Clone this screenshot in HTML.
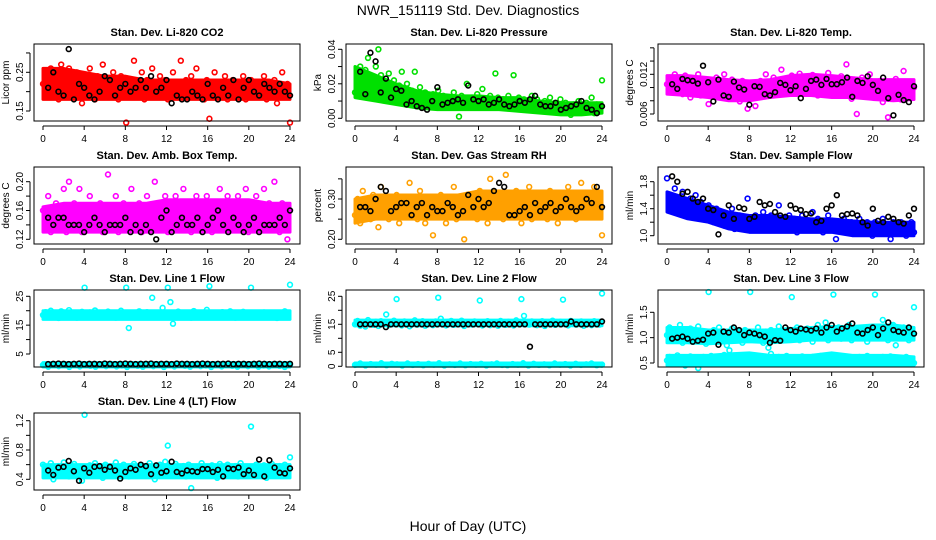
<!DOCTYPE html>
<html><head><meta charset="utf-8"><style>
html,body{margin:0;padding:0;background:#fff}
svg{display:block;font-family:"Liberation Sans",Arial,sans-serif}
</style></head><body>
<svg id="c" width="936" height="540" viewBox="0 0 936 540">
<text x="468" y="15" text-anchor="middle" font-size="14">NWR_151119  Std. Dev. Diagnostics</text>
<text x="468" y="531" text-anchor="middle" font-size="14">Hour of Day (UTC)</text>
</svg>
<script>
const hourTicks=[0,4,8,12,16,20,24];
const bandHours=[0,2,4,6,8,10,12,14,16,18,20,22,24];
const titles=["Stan. Dev. Li-820 CO2","Stan. Dev. Li-820 Pressure","Stan. Dev. Li-820 Temp.","Stan. Dev. Amb. Box Temp.","Stan. Dev. Gas Stream RH","Stan. Dev. Sample Flow","Stan. Dev. Line 1 Flow","Stan. Dev. Line 2 Flow","Stan. Dev. Line 3 Flow","Stan. Dev. Line 4 (LT) Flow"];
const yTitles=["Licor ppm","kPa","degrees C","degrees C","percent","ml/min","ml/min","ml/min","ml/min","ml/min"];
const yTicks=[[0.15,0.2,0.25,0.3],[0,0.01,0.02,0.03,0.04],[0.006,0.008,0.010,0.012,0.014,0.016],[0.12,0.14,0.16,0.18,0.20],[0.20,0.25,0.30,0.35],[1.0,1.2,1.4,1.6,1.8],[5,10,15,20,25],[0,5,10,15,20,25],[0.5,1.0,1.5],[0.4,0.6,0.8,1.0,1.2]];
const yLabels=[["0.15","0.25"],["0.00","0.02","0.04"],["0.006","0.012"],["0.12","0.16","0.20"],["0.20","0.30"],["1.0","1.4","1.8"],["5","15","25"],["0","5","15","25"],["0.5","1.0","1.5"],["0.4","0.8","1.2"]];
const colors=["#ff0000","#00e000","#ff00ff","#ff00ff","#ffa000","#0000ff","#00ffff","#00ffff","#00ffff","#00ffff"];

// cloud envelopes (lo / hi per 2 hours)
const co2Lo=[0.18,0.18,0.18,0.18,0.18,0.18,0.18,0.18,0.18,0.18,0.18,0.18,0.18];
const co2Hi=[0.26,0.26,0.25,0.24,0.24,0.23,0.23,0.23,0.23,0.23,0.23,0.23,0.22];
const presLo=[0.012,0.010,0.008,0.006,0.005,0.005,0.005,0.005,0.004,0.003,0.002,0.002,0.003];
const presHi=[0.030,0.025,0.020,0.016,0.014,0.013,0.013,0.012,0.012,0.010,0.009,0.009,0.009];
const tempLo=[0.0090,0.0088,0.0085,0.0080,0.0080,0.0085,0.0088,0.0088,0.0085,0.0085,0.0082,0.0080,0.0082];
const tempHi=[0.0118,0.0118,0.0115,0.0112,0.0110,0.0112,0.0118,0.0120,0.0118,0.0115,0.0112,0.0112,0.0112];
const ambLo=[0.13,0.13,0.13,0.13,0.13,0.13,0.13,0.13,0.13,0.13,0.13,0.13,0.13];
const ambHi=[0.165,0.17,0.17,0.17,0.17,0.17,0.175,0.175,0.175,0.175,0.175,0.17,0.17];
const rhLo=[0.24,0.25,0.25,0.25,0.25,0.25,0.25,0.25,0.25,0.25,0.25,0.25,0.25];
const rhHi=[0.30,0.31,0.31,0.31,0.31,0.31,0.32,0.32,0.32,0.32,0.32,0.32,0.32];
const flowLo=[1.35,1.25,1.20,1.10,1.05,1.05,1.05,1.05,1.05,1.0,1.0,1.0,1.0];
const flowHi=[1.65,1.55,1.45,1.35,1.30,1.30,1.28,1.25,1.25,1.22,1.20,1.20,1.20];
const l1HiLo=[17,17,17,17,17,17,17,17,17,17,17,17,17];
const l1HiHi=[20,20,20,20,20,20,20,20,20,20,20,20,20];
const l1LoLo=[0.5,0.5,0.5,0.5,0.5,0.5,0.5,0.5,0.5,0.5,0.5,0.5,0.5];
const l1LoHi=[2,2,2,2,2,2,2,2,2,2,2,2,2];
const l2HiLo=[14.5,14.5,14.5,14.5,14.5,14.5,14.5,14.5,14.5,14.5,14.5,14.5,14.5];
const l2HiHi=[16.5,16.5,16.5,16.5,16.5,16.5,16.5,16.5,16.5,16.5,16.5,16.5,16.5];
const l2LoLo=[0,0,0,0,0,0,0,0,0,0,0,0,0];
const l2LoHi=[1.2,1.2,1.2,1.2,1.2,1.2,1.2,1.2,1.2,1.2,1.2,1.2,1.2];
const l3HiLo=[0.9,0.9,0.88,0.9,0.92,0.9,0.92,0.95,0.95,0.95,0.95,0.95,0.95];
const l3HiHi=[1.2,1.2,1.15,1.15,1.15,1.15,1.18,1.2,1.22,1.22,1.25,1.25,1.2];
const l3LoLo=[0.45,0.45,0.45,0.45,0.45,0.45,0.45,0.45,0.45,0.45,0.45,0.45,0.45];
const l3LoHi=[0.65,0.65,0.65,0.68,0.7,0.65,0.65,0.65,0.7,0.65,0.65,0.65,0.62];
const l4Lo=[0.42,0.42,0.42,0.42,0.42,0.42,0.42,0.42,0.42,0.42,0.42,0.42,0.42];
const l4Hi=[0.60,0.60,0.60,0.60,0.60,0.60,0.60,0.60,0.60,0.60,0.60,0.60,0.60];

const co2Color=[0.22,0.25,0.19,0.26,0.21,0.24,0.18,0.27,0.23,0.20,0.26,0.22,0.19,0.25,0.21,0.17,0.23,0.20,0.26,0.22,0.18,0.24,0.21,0.27,0.19,0.23,0.20,0.25,0.22,0.18,0.24,0.21,0.12,0.23,0.19,0.28,0.22,0.20,0.25,0.18,0.23,0.21,0.26,0.19,0.22,0.24,0.20,0.23,0.18,0.21,0.25,0.19,0.22,0.28,0.20,0.23,0.19,0.24,0.21,0.26,0.20,0.22,0.18,0.23,0.13,0.21,0.25,0.19,0.22,0.20,0.24,0.18,0.21,0.23,0.19,0.22,0.20,0.24,0.18,0.21,0.23,0.20,0.22,0.19,0.21,0.24,0.18,0.22,0.20,0.23,0.17,0.21,0.25,0.19,0.22,0.12];
const co2Black=[0.21,0.25,0.20,0.19,0.31,0.18,0.22,0.21,0.19,0.18,0.20,0.24,0.23,0.19,0.21,0.22,0.20,0.21,0.23,0.21,0.24,0.20,0.21,0.23,0.17,0.19,0.18,0.18,0.20,0.19,0.18,0.22,0.19,0.18,0.21,0.19,0.23,0.18,0.21,0.23,0.20,0.19,0.22,0.21,0.20,0.22,0.20,0.19];
const presColor=[0.015,0.025,0.030,0.020,0.028,0.035,0.022,0.018,0.030,0.040,0.025,0.020,0.017,0.026,0.015,0.022,0.012,0.019,0.027,0.014,0.020,0.011,0.016,0.027,0.013,0.018,0.010,0.015,0.012,0.008,0.014,0.011,0.016,0.009,0.013,0.010,0.007,0.012,0.015,0.009,0.001,0.013,0.011,0.020,0.009,0.012,0.008,0.014,0.010,0.017,0.011,0.008,0.013,0.010,0.026,0.012,0.009,0.011,0.007,0.013,0.010,0.025,0.008,0.012,0.009,0.011,0.007,0.010,0.013,0.008,0.011,0.009,0.006,0.010,0.008,0.012,0.007,0.009,0.005,0.011,0.007,0.009,0.006,0.002,0.008,0.006,0.010,0.004,0.007,0.009,0.005,0.012,0.003,0.008,0.006,0.022];
const presBlack=[0.027,0.014,0.038,0.033,0.015,0.023,0.012,0.017,0.016,0.008,0.010,0.007,0.006,0.005,0.010,0.018,0.008,0.009,0.010,0.011,0.009,0.019,0.011,0.010,0.011,0.008,0.009,0.011,0.008,0.007,0.008,0.010,0.009,0.011,0.013,0.008,0.007,0.007,0.009,0.005,0.006,0.007,0.008,0.010,0.006,0.005,0.003,0.007];
const tempColor=[0.0105,0.0115,0.0095,0.0120,0.0100,0.0110,0.0090,0.0118,0.0102,0.0085,0.0112,0.0098,0.0120,0.0088,0.0108,0.0095,0.0075,0.0110,0.0100,0.0115,0.0092,0.0105,0.0120,0.0098,0.0087,0.0112,0.0101,0.0093,0.0079,0.0110,0.0096,0.0068,0.0088,0.0105,0.0072,0.0099,0.0110,0.0094,0.0120,0.0103,0.0090,0.0115,0.0100,0.0108,0.0127,0.0095,0.0112,0.0104,0.0118,0.0096,0.0109,0.0121,0.0100,0.0113,0.0092,0.0106,0.0119,0.0101,0.0088,0.0114,0.0098,0.0107,0.0122,0.0099,0.0110,0.0091,0.0103,0.0117,0.0095,0.0135,0.0104,0.0083,0.0112,0.0060,0.0098,0.0115,0.0090,0.0106,0.0120,0.0085,0.0101,0.0093,0.0110,0.0078,0.0098,0.0055,0.0104,0.0088,0.0113,0.0097,0.0082,0.0125,0.0094,0.0106,0.0087,0.0100];
const tempBlack=[0.0105,0.0098,0.0113,0.0111,0.0110,0.0106,0.0133,0.0108,0.0079,0.0112,0.0088,0.0086,0.0109,0.0100,0.0097,0.0074,0.0102,0.0101,0.0090,0.0088,0.0093,0.0107,0.0104,0.0096,0.0102,0.0084,0.0098,0.0110,0.0112,0.0104,0.0113,0.0105,0.0105,0.0108,0.0115,0.0086,0.0110,0.0107,0.0117,0.0104,0.0095,0.0115,0.0084,0.0058,0.0089,0.0081,0.0078,0.0102];
const ambColor=[0.16,0.14,0.18,0.13,0.15,0.17,0.14,0.16,0.19,0.13,0.20,0.15,0.17,0.14,0.19,0.13,0.16,0.15,0.18,0.14,0.16,0.15,0.17,0.13,0.15,0.21,0.14,0.16,0.18,0.13,0.15,0.17,0.14,0.16,0.19,0.14,0.15,0.17,0.13,0.16,0.18,0.14,0.15,0.20,0.17,0.14,0.16,0.18,0.13,0.17,0.15,0.18,0.14,0.16,0.19,0.15,0.17,0.13,0.16,0.18,0.14,0.17,0.15,0.18,0.16,0.13,0.17,0.15,0.19,0.14,0.16,0.18,0.15,0.17,0.14,0.18,0.16,0.15,0.19,0.13,0.17,0.15,0.18,0.14,0.16,0.19,0.15,0.17,0.14,0.20,0.16,0.13,0.17,0.15,0.12,0.16];
const ambBlack=[0.15,0.14,0.15,0.15,0.14,0.14,0.14,0.13,0.14,0.15,0.14,0.13,0.14,0.14,0.14,0.15,0.13,0.14,0.13,0.14,0.13,0.12,0.15,0.16,0.13,0.14,0.15,0.14,0.14,0.15,0.13,0.14,0.15,0.16,0.14,0.13,0.15,0.14,0.13,0.14,0.15,0.13,0.14,0.14,0.14,0.15,0.14,0.16];
const rhColor=[0.26,0.30,0.24,0.32,0.27,0.29,0.25,0.31,0.28,0.23,0.33,0.27,0.30,0.25,0.29,0.26,0.31,0.24,0.28,0.30,0.26,0.34,0.27,0.29,0.25,0.32,0.28,0.24,0.30,0.27,0.21,0.29,0.26,0.31,0.28,0.24,0.30,0.27,0.33,0.25,0.29,0.28,0.20,0.31,0.26,0.30,0.28,0.25,0.32,0.27,0.29,0.24,0.35,0.28,0.26,0.31,0.29,0.25,0.36,0.27,0.30,0.26,0.32,0.28,0.24,0.30,0.27,0.33,0.25,0.29,0.31,0.26,0.28,0.30,0.25,0.32,0.27,0.29,0.24,0.31,0.28,0.26,0.33,0.27,0.30,0.25,0.29,0.34,0.27,0.31,0.26,0.28,0.33,0.27,0.30,0.21];
const rhBlack=[0.28,0.28,0.27,0.30,0.33,0.32,0.27,0.28,0.29,0.29,0.26,0.28,0.29,0.26,0.28,0.27,0.27,0.29,0.28,0.26,0.27,0.31,0.28,0.30,0.28,0.29,0.32,0.34,0.33,0.26,0.26,0.27,0.28,0.26,0.29,0.27,0.28,0.29,0.27,0.28,0.30,0.28,0.27,0.28,0.30,0.29,0.33,0.28];
const flowColor=[1.85,1.60,1.45,1.70,1.55,1.40,1.65,1.50,1.35,1.55,1.45,1.60,1.30,1.50,1.40,1.25,1.45,1.30,1.20,1.40,1.25,1.35,1.15,1.30,1.20,1.40,1.10,1.25,1.30,1.15,1.20,1.55,1.25,1.10,1.30,1.20,1.15,1.35,1.25,1.10,1.30,1.15,1.20,1.45,1.25,1.10,1.20,1.30,1.15,1.25,1.05,1.20,1.30,1.10,1.20,1.15,1.35,1.10,1.25,1.15,1.05,1.20,1.30,1.10,1.15,0.95,1.20,1.10,1.25,1.15,1.05,1.20,1.10,1.15,1.25,1.05,1.15,1.20,1.10,1.00,1.20,1.15,1.05,1.25,1.10,1.15,0.95,1.20,1.10,1.05,1.20,1.15,1.00,1.10,1.20,1.05];
const flowBlack=[1.88,1.80,1.62,1.65,1.55,1.50,1.55,1.40,1.38,1.02,1.30,1.45,1.25,1.42,1.40,1.25,1.28,1.50,1.45,1.47,1.35,1.30,1.28,1.45,1.40,1.38,1.32,1.33,1.20,1.22,1.40,1.45,1.60,1.30,1.32,1.33,1.30,1.20,1.15,1.40,1.22,1.20,1.28,1.25,1.20,1.18,1.30,1.40];
const line1High=[18.5,19.5,17.8,20.0,18.2,19.0,17.5,19.8,18.8,17.9,20.2,18.4,19.2,17.6,18.9,19.6,28.0,18.1,19.4,17.7,20.1,18.6,19.1,17.8,18.3,19.7,18.0,19.3,17.6,18.8,20.0,18.4,28.0,14.0,19.0,17.9,18.5,19.8,18.2,17.7,19.5,18.6,24.5,18.0,19.2,17.8,21.0,19.0,28.0,23.0,15.5,18.4,19.7,17.9,18.8,19.3,18.1,17.6,19.9,18.5,18.9,17.8,19.4,20.3,28.5,18.3,17.7,19.0,18.6,19.5,17.9,18.2,19.8,18.4,17.6,19.1,18.7,19.6,18.0,17.8,28.0,18.5,19.2,17.7,18.9,19.4,18.1,17.9,19.0,18.6,17.5,19.3,18.2,19.8,18.4,29.0];
const line1Low=[1.2,0.6,1.5,0.8,1.3,0.5,1.1,0.7,1.4,0.9,0.6,1.2,0.8,1.5,0.7,1.0,0.5,1.3,0.9,0.6,1.4,0.8,1.1,0.5,1.2,0.7,1.5,0.9,0.6,1.3,0.8,1.0,0.5,1.4,0.7,1.2,0.9,0.6,1.1,0.8,1.5,0.6,1.0,0.7,1.3,0.9,0.5,1.2];
const line1Black=[1.5,1.6,1.7,1.6,1.5,1.6,1.7,1.5,1.6,1.6,1.5,1.7,1.6,1.5,1.6,1.7,1.6,1.5,1.6,1.6,1.7,1.5,1.6,1.6,1.5,1.7,1.6,1.6,1.5,1.6,1.7,1.6,1.5,1.6,1.6,1.7,1.5,1.6,1.6,1.5,1.6,1.7,1.6,1.5,1.6,1.6,1.5,1.6];
const line2High=[15.0,16.2,14.5,15.8,14.2,16.5,15.3,14.8,15.9,14.4,16.1,15.2,18.5,14.7,15.6,16.3,24.0,15.1,14.6,16.0,15.4,14.3,15.7,16.4,14.9,15.5,16.1,14.5,15.2,15.8,14.7,16.0,24.5,17.0,15.3,14.6,15.9,16.2,14.8,15.4,15.0,16.3,14.4,15.7,15.1,14.9,16.0,15.5,23.5,14.6,15.8,16.1,14.7,15.2,15.6,14.5,16.2,15.0,14.8,15.9,15.3,14.6,16.4,15.1,24.0,18.0,15.5,14.9,16.0,15.2,14.7,15.8,16.1,14.4,15.6,15.0,16.3,14.8,15.4,15.9,23.8,15.1,14.6,16.2,15.5,14.9,15.7,16.0,14.5,15.3,15.8,14.7,16.1,15.2,14.9,26.0];
const line2Low=[0.5,1.0,0.3,0.8,0.6,1.1,0.4,0.9,0.7,0.3,1.0,0.5,0.8,0.4,0.9,0.6,1.1,0.3,0.7,0.5,1.0,0.4,0.8,0.6,0.9,0.3,0.7,1.0,0.5,0.4,0.8,0.6,1.1,0.3,0.9,0.5,0.7,0.4,1.0,0.6,0.8,0.3,0.9,0.5,0.7,1.0,0.4,0.6];
const line2Black=[15,15,15,15,15,14,15,15,15,15,15,15,15,15,15,15,15,15,15,15,15,15,15,15,15,15,15,15,15,15,15,15,15,7,15,15,15,15,15,15,15,16,15,15,15,15,15,16];
const line3High=[1.05,1.20,0.95,1.15,1.00,1.25,0.90,1.10,1.02,1.18,0.92,1.08,1.22,0.98,1.12,0.88,1.90,1.05,1.15,0.95,1.20,1.00,1.10,0.85,1.05,1.18,0.95,1.12,1.02,0.90,1.15,1.00,1.90,1.08,0.95,1.20,1.05,0.90,1.12,1.00,1.15,0.96,1.08,1.22,0.98,1.10,1.02,1.15,1.80,1.05,1.20,0.95,1.10,1.00,1.18,1.05,0.92,1.12,1.25,1.00,1.08,1.30,0.95,1.15,1.85,1.05,1.20,0.98,1.12,1.02,1.25,0.95,1.10,1.18,1.00,1.15,1.05,0.92,1.20,1.08,1.85,1.10,1.00,1.35,1.15,0.95,1.05,1.25,0.85,1.10,1.00,1.20,1.05,0.95,1.15,1.60];
const line3Low=[0.55,0.62,0.48,0.58,0.65,0.50,0.60,0.45,0.57,0.63,0.52,0.59,0.40,0.55,0.62,0.50,0.58,0.64,0.53,0.60,0.48,0.56,0.66,0.52,0.75,0.60,0.55,0.62,0.50,0.58,0.64,0.52,0.57,0.60,0.48,0.55,0.63,0.50,0.58,0.80,0.68,0.52,0.57,0.62,0.50,0.59,0.64,0.53,0.58,0.61,0.49,0.56,0.63,0.52,0.59,0.55,0.62,0.50,0.58,0.64,0.53,0.57,0.60,0.48,0.55,0.62,0.50,0.58,0.63,0.52,0.57,0.60,0.49,0.56,0.62,0.51,0.58,0.64,0.53,0.57,0.60,0.50,0.55,0.62,0.52,0.58,0.63,0.50,0.57,0.60,0.48,0.55,0.62,0.52,0.58,0.50];
const line3Black=[0.98,1.00,1.02,0.98,0.92,0.94,0.96,1.08,1.10,0.86,1.12,1.10,1.20,1.15,1.05,1.10,1.08,1.05,1.02,0.90,0.95,0.94,1.20,1.15,1.12,1.18,1.16,1.14,1.18,1.10,1.20,1.25,1.12,1.18,1.22,1.28,1.10,1.08,1.15,1.20,1.05,1.18,1.30,1.15,1.12,1.10,1.20,1.08];
const line4Color=[0.60,0.45,0.55,0.62,0.40,0.52,0.58,0.48,0.63,0.50,0.44,0.57,0.61,0.47,0.54,0.38,1.28,0.53,0.59,0.46,0.62,0.50,0.56,0.42,0.60,0.51,0.48,0.58,0.63,0.45,0.54,0.60,0.50,0.44,0.57,0.61,0.47,0.53,0.59,0.46,0.55,0.62,0.49,0.40,0.56,0.60,0.52,0.64,0.86,0.45,0.55,0.61,0.48,0.53,0.58,0.44,0.60,0.28,0.52,0.57,0.47,0.62,0.50,0.55,0.46,0.59,0.53,0.42,0.61,0.49,0.56,0.60,0.47,0.54,0.58,0.44,0.62,0.51,0.57,0.48,1.12,0.55,0.60,0.46,0.53,0.59,0.42,0.56,0.61,0.49,0.54,0.58,0.45,0.60,0.52,0.70];
const line4Black=[0.52,0.46,0.56,0.57,0.65,0.51,0.38,0.55,0.49,0.57,0.58,0.53,0.57,0.52,0.41,0.50,0.55,0.53,0.60,0.58,0.47,0.59,0.49,0.51,0.64,0.50,0.48,0.52,0.51,0.50,0.54,0.54,0.50,0.53,0.44,0.55,0.54,0.56,0.47,0.52,0.46,0.67,0.44,0.66,0.56,0.49,0.48,0.55];

const bands=[[[co2Lo,co2Hi]],[[presLo,presHi]],[[tempLo,tempHi]],[[ambLo,ambHi]],[[rhLo,rhHi]],[[flowLo,flowHi]],[[l1HiLo,l1HiHi],[l1LoLo,l1LoHi]],[[l2HiLo,l2HiHi],[l2LoLo,l2LoHi]],[[l3HiLo,l3HiHi],[l3LoLo,l3LoHi]],[[l4Lo,l4Hi]]];
const colorSeries=[[co2Color],[presColor],[tempColor],[ambColor],[rhColor],[flowColor],[line1High,line1Low],[line2High,line2Low],[line3High,line3Low],[line4Color]];
const blackSeries=[co2Black,presBlack,tempBlack,ambBlack,rhBlack,flowBlack,line1Black,line2Black,line3Black,line4Black];
const yCal=[[0.25,72.3,0.15,111],[0.04,49.3,0,118.3],[0.012,74.3,0.006,114],[0.20,181.7,0.12,239.3],[0.30,199,0.20,239.3],[1.8,181.7,1.0,235.7],[25,296.3,5,354],[25,296.3,0,366.3],[1.5,312.3,0.5,363],[1.2,420.7,0.4,479.3]];

const NS="http://www.w3.org/2000/svg";
const svg=document.getElementById('c');
function mk(tag,attrs,parent){const e=document.createElementNS(NS,tag);for(const k in attrs)e.setAttribute(k,attrs[k]);(parent||svg).appendChild(e);return e;}
const rowTop=[44,167,290,413];
for(let p=0;p<10;p++){
  const col=p%3,row=Math.floor(p/3);
  const bx=34+312*col,bw=266,by=rowTop[row],bh=77;
  const g=mk('g',{});
  
  
  const xS=h=>43+312*col+h*247/24;
  const c=yCal[p];
  const yS=v=>c[1]+(v-c[0])*(c[3]-c[1])/(c[2]-c[0]);
  const t=mk('text',{x:bx+bw/2,y:by-8,'text-anchor':'middle','font-size':'11','font-weight':'bold'},g);
  t.textContent=titles[p];
  
  
  const yt=mk('text',{transform:`translate(${bx-25},${by+bh/2}) rotate(-90)`,'text-anchor':'middle','font-size':'10'},g);
  yt.textContent=yTitles[p];
  
  
  mk('line',{x1:xS(0),x2:xS(24),y1:by+bh+5,y2:by+bh+5,stroke:'#000','stroke-width':1},g);
  hourTicks.forEach(h=>{
    mk('line',{x1:xS(h),x2:xS(h),y1:by+bh+5,y2:by+bh+9,stroke:'#000'},g);
    const l=mk('text',{x:xS(h),y:by+bh+21,'text-anchor':'middle','font-size':'10'},g);
    l.textContent=h;
    
    
  });
  const yt0=yTicks[p];
  mk('line',{x1:bx-4,x2:bx-4,y1:yS(yt0[0]),y2:yS(yt0[yt0.length-1]),stroke:'#000'},g);
  yt0.forEach(v=>{mk('line',{x1:bx-8,x2:bx-4,y1:yS(v),y2:yS(v),stroke:'#000'},g);});
  yLabels[p].forEach(s=>{
    const y=yS(parseFloat(s));
    const l=mk('text',{transform:`translate(${bx-11},${y}) rotate(-90)`,'text-anchor':'middle','font-size':'10'},g);
    l.textContent=s;
    
    
  });
  // dense cloud envelopes
  bands[p].forEach(([lo,hi])=>{
    let pts=bandHours.map((h,i)=>xS(h)+','+yS(hi[i]));
    pts=pts.concat(bandHours.map((h,i)=>xS(h)+','+yS(lo[i])).reverse());
    const poly=mk('polygon',{points:pts.join(' '),fill:colors[p],stroke:colors[p],'stroke-width':3,'stroke-linejoin':'round'},g);
    
    
  });
  colorSeries[p].forEach(arr=>{
    arr.forEach((v,i)=>{
      const pt=mk('circle',{cx:xS(i*24/(arr.length-1)),cy:yS(v),r:2.4,fill:'none',stroke:colors[p],'stroke-width':1.6},g);
      
      
    });
  });
  const bk=blackSeries[p];
  bk.forEach((v,i)=>{
    const pt=mk('circle',{cx:xS(0.5+i*23.5/(bk.length-1)),cy:yS(v),r:2.4,fill:'none',stroke:'#000','stroke-width':1.6},g);
    
    
  });
  const box=mk('rect',{x:bx,y:by,width:bw,height:bh,fill:'none',stroke:'#000','stroke-width':1},g);
  
  
}
</script>
</body></html>
